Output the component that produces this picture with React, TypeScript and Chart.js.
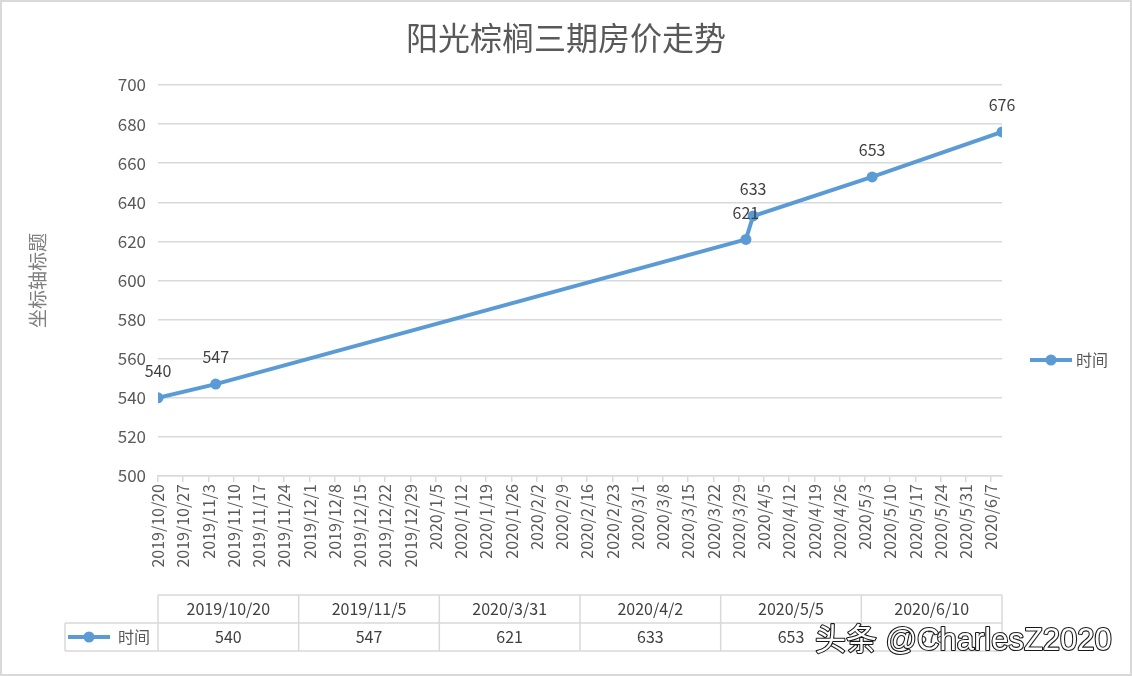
import { useEffect, useRef } from 'react';
import { Chart, registerables } from 'chart.js';

Chart.register(...registerables);

const chartTitle = '阳光棕榈三期房价走势';
const yAxisTitle = '坐标轴标题';
const seriesName = '时间';
const dates = ['2019/10/20', '2019/11/5', '2020/3/31', '2020/4/2', '2020/5/5', '2020/6/10'];
const prices = [540, 547, 621, 633, 653, 676];
const xTickLabels = [
  '2019/10/20', '2019/10/27', '2019/11/3', '2019/11/10', '2019/11/17', '2019/11/24',
  '2019/12/1', '2019/12/8', '2019/12/15', '2019/12/22', '2019/12/29', '2020/1/5',
  '2020/1/12', '2020/1/19', '2020/1/26', '2020/2/2', '2020/2/9', '2020/2/16',
  '2020/2/23', '2020/3/1', '2020/3/8', '2020/3/15', '2020/3/22', '2020/3/29',
  '2020/4/5', '2020/4/12', '2020/4/19', '2020/4/26', '2020/5/3', '2020/5/10',
  '2020/5/17', '2020/5/24', '2020/5/31', '2020/6/7',
];
const yMin = 500;
const yMax = 700;
const yStep = 20;
const watermark = '头条 @CharlesZ2020';

const W = 1132;
const H = 676;
const LINE = '#5b9bd5';
const GRID = '#d9d9d9';
const FONT = '"Noto Sans CJK SC", "Noto Sans", sans-serif';

function dayNum(s: string) {
  const [y, m, d] = s.split('/').map(Number);
  return Date.UTC(y, m - 1, d) / 86400000;
}
const day0 = dayNum(dates[0]);
const toX = (s: string) => dayNum(s) - day0;

const extrasPlugin = {
  id: 'extras',
  beforeDraw(chart: any) {
    const ctx = chart.ctx;
    ctx.save();
    ctx.fillStyle = '#ffffff';
    ctx.fillRect(0, 0, W, H);
    ctx.strokeStyle = GRID;
    ctx.lineWidth = 2;
    ctx.strokeRect(1, 1, W - 2, H - 2);
    // title centred on the whole chart
    ctx.fillStyle = '#595959';
    ctx.font = `32px ${FONT}`;
    ctx.textAlign = 'center';
    ctx.textBaseline = 'middle';
    ctx.fillText(chartTitle, W / 2, 38);
    ctx.restore();
  },
  afterDatasetsDraw(chart: any) {
    const ctx = chart.ctx;
    const meta = chart.getDatasetMeta(0);
    ctx.save();
    ctx.fillStyle = '#404040';
    ctx.font = `16px ${FONT}`;
    ctx.textAlign = 'center';
    ctx.textBaseline = 'middle';
    meta.data.forEach((pt: any, i: number) => {
      ctx.fillText(String(prices[i]), pt.x, pt.y - 27);
    });
    ctx.restore();
  },
  afterDraw(chart: any) {
    const ctx = chart.ctx;
    const { left, right } = chart.chartArea;
    ctx.save();

    // legend on the right
    const ly = 360;
    ctx.strokeStyle = LINE;
    ctx.lineWidth = 4;
    ctx.beginPath();
    ctx.moveTo(1030, ly);
    ctx.lineTo(1072, ly);
    ctx.stroke();
    ctx.fillStyle = LINE;
    ctx.beginPath();
    ctx.arc(1051, ly, 5.5, 0, Math.PI * 2);
    ctx.fill();
    ctx.fillStyle = '#595959';
    ctx.font = `16px ${FONT}`;
    ctx.textAlign = 'left';
    ctx.textBaseline = 'middle';
    ctx.fillText(seriesName, 1076, ly);

    // data table
    const n = dates.length;
    const colW = (right - left) / n;
    const tTop = 595;
    const tMid = 623;
    const tBot = 651;
    const lLeft = 65;
    ctx.strokeStyle = GRID;
    ctx.lineWidth = 1.5;
    const seg = (x1: number, y1: number, x2: number, y2: number) => {
      ctx.beginPath();
      ctx.moveTo(x1, y1);
      ctx.lineTo(x2, y2);
      ctx.stroke();
    };
    seg(left, tTop, right, tTop);
    seg(lLeft, tMid, right, tMid);
    seg(lLeft, tBot, right, tBot);
    seg(lLeft, tMid, lLeft, tBot);
    for (let i = 0; i <= n; i++) {
      const x = left + i * colW;
      seg(x, tTop, x, tBot);
    }
    ctx.fillStyle = '#404040';
    ctx.font = `16px ${FONT}`;
    ctx.textAlign = 'center';
    ctx.textBaseline = 'middle';
    for (let i = 0; i < n; i++) {
      const cx = left + (i + 0.5) * colW;
      ctx.fillText(dates[i], cx, (tTop + tMid) / 2);
      ctx.fillText(String(prices[i]), cx, (tMid + tBot) / 2);
    }
    // legend key in table
    const ky = (tMid + tBot) / 2;
    ctx.strokeStyle = LINE;
    ctx.lineWidth = 4;
    seg(68, ky, 110, ky);
    ctx.fillStyle = LINE;
    ctx.beginPath();
    ctx.arc(89, ky, 5.5, 0, Math.PI * 2);
    ctx.fill();
    ctx.fillStyle = '#595959';
    ctx.textAlign = 'left';
    ctx.fillText(seriesName, 118, ky);

    // watermark
    ctx.font = `31px "Liberation Sans", "Noto Sans CJK SC", sans-serif`;
    ctx.textAlign = 'left';
    ctx.textBaseline = 'alphabetic';
    ctx.lineJoin = 'round';
    ctx.strokeStyle = '#1a1a1a';
    ctx.lineWidth = 2.2;
    ctx.strokeText(watermark, 815, 650);
    ctx.fillStyle = '#ffffff';
    ctx.fillText(watermark, 815, 650);
    ctx.restore();
  },
};

export default function App() {
  const ref = useRef<HTMLCanvasElement | null>(null);
  useEffect(() => {
    if (!ref.current) return;
    const tickValues = xTickLabels.map(toX);
    const chart = new Chart(ref.current, {
      type: 'line',
      data: {
        datasets: [
          {
            label: seriesName,
            data: dates.map((d, i) => ({ x: toX(d), y: prices[i] })),
            borderColor: LINE,
            backgroundColor: LINE,
            borderWidth: 4,
            pointRadius: 5.5,
            pointBorderWidth: 0,
            pointBackgroundColor: LINE,
            tension: 0,
          },
        ],
      },
      options: {
        animation: false,
        responsive: false,
        devicePixelRatio: 1,
        layout: { padding: { left: 10, right: 130, top: 85, bottom: 90 } },
        plugins: {
          legend: { display: false },
          tooltip: { enabled: false },
          title: { display: false },
        },
        scales: {
          x: {
            type: 'linear',
            min: 0,
            max: toX(dates[dates.length - 1]),
            afterBuildTicks: (scale: any) => {
              scale.ticks = tickValues.map((v) => ({ value: v }));
            },
            afterFit: (scale: any) => {
              scale.height = 110;
            },
            ticks: {
              autoSkip: false,
              minRotation: 90,
              maxRotation: 90,
              padding: 2,
              color: '#595959',
              font: { family: FONT, size: 16 },
              callback: (_v: any, i: number) => xTickLabels[i],
            },
            grid: { drawOnChartArea: false, drawTicks: true, tickLength: 6, color: GRID, lineWidth: 1.5 },
            border: { display: true, color: GRID, width: 1.5 },
          },
          y: {
            min: yMin,
            max: yMax,
            afterFit: (scale: any) => {
              scale.width = 148;
            },
            ticks: {
              stepSize: yStep,
              padding: 12,
              color: '#595959',
              font: { family: FONT, size: 17 },
            },
            grid: { color: GRID, lineWidth: 1.5, drawTicks: false },
            border: { display: false },
            title: {
              display: true,
              text: yAxisTitle,
              color: '#7f7f7f',
              font: { family: FONT, size: 19 },
              padding: { top: 16, bottom: 0 },
            },
          },
        },
      },
      plugins: [extrasPlugin],
    } as any);
    return () => chart.destroy();
  }, []);
  return (
    <div style={{ position: 'fixed', left: 0, top: 0, width: W, height: H }}>
      <canvas ref={ref} width={W} height={H} style={{ width: W, height: H, display: 'block' }} />
    </div>
  );
}
